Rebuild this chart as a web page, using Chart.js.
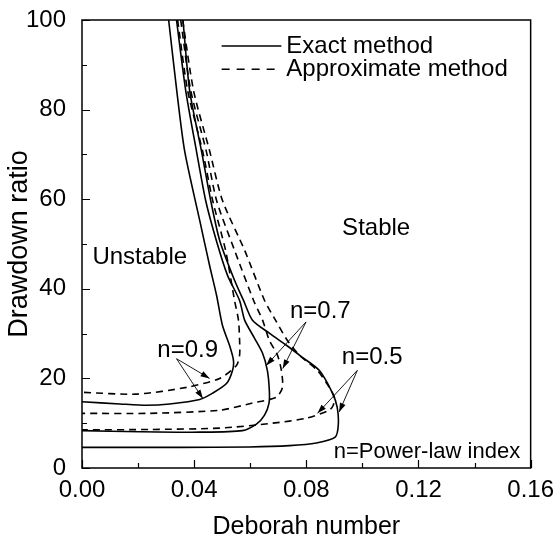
<!DOCTYPE html>
<html>
<head>
<meta charset="utf-8">
<script src="https://cdn.jsdelivr.net/npm/chart.js@4"></script>
<style>
  body { margin: 0; background: #fff; }
  #wrap { width: 556px; height: 537px; }
</style>
</head>
<body>
<div id="wrap"><canvas id="myChart"></canvas></div>
<script>
// Deborah number (x) vs drawdown ratio (y)
const exact09X = [0.0309, 0.0338, 0.0366, 0.0420, 0.0455, 0.0480, 0.0501, 0.0526, 0.0540, 0.0537, 0.0516, 0.0466, 0.0420, 0.0313, 0.0231, 0.0135, 0.0];
const exact09Y = [100, 84.2, 70.8, 55.2, 45.2, 38.5, 31.8, 27.4, 24.1, 21.8, 18.9, 16.7, 15.3, 14.3, 14.0, 14.3, 14.8];

const exact07X = [0.0337, 0.0370, 0.0408, 0.0441, 0.0479, 0.0519, 0.0562, 0.0580, 0.0615, 0.0644, 0.0661, 0.0668, 0.0667, 0.0651, 0.0622, 0.0572, 0.0420, 0.0206, 0.0];
const exact07Y = [100, 84.2, 70.8, 59.7, 50.8, 43.0, 37.4, 33.0, 29.0, 25.6, 21.8, 17.4, 14.5, 11.8, 9.8, 8.35, 8.0, 8.1, 8.35];

const exact05X = [0.0360, 0.0384, 0.0426, 0.0459, 0.0491, 0.0544, 0.0576, 0.0608, 0.0668, 0.0729, 0.0786, 0.0846, 0.0892, 0.0910, 0.0914, 0.0903, 0.0836, 0.0740, 0.0597, 0.0348, 0.0];
const exact05Y = [100, 84.2, 70.8, 59.7, 50.8, 41.9, 37.4, 33.0, 30.1, 27.4, 24.7, 21.8, 16.9, 13.6, 9.6, 6.9, 5.6, 5.0, 4.7, 4.6, 4.6];

const approx09X = [0.0341, 0.0377, 0.0430, 0.0466, 0.0512, 0.0544, 0.0558, 0.0562, 0.0562, 0.0551, 0.0491, 0.0373, 0.0196, 0.0];
const approx09Y = [100, 84.2, 70.8, 59.7, 48.6, 37.4, 33.0, 28.5, 25.2, 22.9, 20.0, 18.0, 16.5, 16.9];

const approx07X = [0.0352, 0.0388, 0.0443, 0.0480, 0.0544, 0.0612, 0.0644, 0.0668, 0.0697, 0.0711, 0.0715, 0.0693, 0.0608, 0.0491, 0.0242, 0.0];
const approx07Y = [100, 84.2, 70.8, 59.7, 48.6, 37.4, 33.0, 28.5, 25.2, 21.8, 18.0, 15.8, 14.5, 12.9, 12.2, 12.2];

const approx05X = [0.0359, 0.0398, 0.0455, 0.0501, 0.0580, 0.0651, 0.0690, 0.0732, 0.0775, 0.0839, 0.0882, 0.0900, 0.0896, 0.0882, 0.0800, 0.0679, 0.0491, 0.0242, 0.0];
const approx05Y = [100, 84.2, 70.8, 59.7, 48.6, 37.4, 33.0, 28.5, 25.2, 21.8, 18.0, 15.8, 14.0, 12.9, 11.1, 10.0, 8.9, 8.6, 8.5];

const xTicks = [0.00, 0.04, 0.08, 0.12, 0.16];
const yTicks = [0, 20, 40, 60, 80, 100];

const legendLabels = ['Exact method', 'Approximate method'];

// text notes: [text, x, y, size] in data units
const notes = [
  ['Unstable', 0.0206, 47.0, 24],
  ['Stable', 0.1049, 53.5, 24],
  ['n=0.9', 0.0377, 26.3, 24],
  ['n=0.7', 0.0850, 35.0, 24],
  ['n=0.5', 0.1035, 24.7, 24],
  ['n=Power-law index', 0.1230, 3.6, 22]
];
// arrows: from [x,y] to [x,y]
const arrows = [
  [0.0337, 24.4, 0.0455, 20.0],
  [0.0337, 24.4, 0.0431, 15.5],
  [0.0799, 32.6, 0.0657, 22.9],
  [0.0799, 32.6, 0.0716, 22.2],
  [0.0982, 21.8, 0.0840, 12.2],
  [0.0982, 21.8, 0.0917, 12.5]
];

const FONT = '"Liberation Sans", Arial, sans-serif';

function pts(xs, ys) {
  return xs.map((x, i) => ({ x: x, y: ys[i] }));
}

function line(xs, ys, dashed) {
  return {
    data: pts(xs, ys),
    borderColor: '#000',
    borderWidth: 1.6,
    borderDash: dashed ? [7, 5] : [],
    pointRadius: 0,
    fill: false,
    tension: 0.25
  };
}

function arrowTo(ctx, x1, y1, x2, y2) {
  ctx.beginPath();
  ctx.moveTo(x1, y1);
  ctx.lineTo(x2, y2);
  ctx.stroke();
  var a = Math.atan2(y2 - y1, x2 - x1);
  var len = 9, w = 3;
  ctx.beginPath();
  ctx.moveTo(x2, y2);
  ctx.lineTo(x2 - len * Math.cos(a) + w * Math.sin(a), y2 - len * Math.sin(a) - w * Math.cos(a));
  ctx.lineTo(x2 - len * Math.cos(a) - w * Math.sin(a), y2 - len * Math.sin(a) + w * Math.cos(a));
  ctx.closePath();
  ctx.fill();
}

const extras = {
  id: 'extras',
  afterDraw(chart) {
    const ctx = chart.ctx;
    const a = chart.chartArea;
    const xs = chart.scales.x, ys = chart.scales.y;
    ctx.save();
    ctx.strokeStyle = '#000';
    ctx.fillStyle = '#000';
    ctx.lineWidth = 1.5;
    ctx.setLineDash([]);
    // frame
    ctx.strokeRect(a.left, a.top, a.right - a.left, a.bottom - a.top);
    // inward ticks
    ctx.lineWidth = 1.2;
    ctx.beginPath();
    for (let v = 0; v <= 0.1601; v += 0.02) {
      const px = Math.round(xs.getPixelForValue(v)) + 0.5;
      const major = Math.abs(v / 0.04 - Math.round(v / 0.04)) < 1e-6;
      ctx.moveTo(px, a.bottom);
      ctx.lineTo(px, a.bottom - (major ? 8 : 5));
    }
    for (let v = 0; v <= 100; v += 10) {
      const py = Math.round(ys.getPixelForValue(v)) + 0.5;
      ctx.moveTo(a.left, py);
      ctx.lineTo(a.left + (v % 20 === 0 ? 8 : 5), py);
    }
    ctx.stroke();

    // legend
    ctx.lineWidth = 1.6;
    const lx1 = xs.getPixelForValue(0.0498), lx2 = xs.getPixelForValue(0.0711);
    const ly = [ys.getPixelForValue(94.2), ys.getPixelForValue(89.0)];
    ctx.font = '24px ' + FONT;
    ctx.textBaseline = 'middle';
    ctx.textAlign = 'left';
    legendLabels.forEach((t, i) => {
      ctx.setLineDash(i === 0 ? [] : [8, 7]);
      ctx.beginPath();
      ctx.moveTo(lx1, ly[i]);
      ctx.lineTo(lx2, ly[i]);
      ctx.stroke();
      ctx.fillText(t, lx2 + 5, ly[i]);
    });
    ctx.setLineDash([]);

    // notes
    ctx.textAlign = 'center';
    notes.forEach(n => {
      ctx.font = n[3] + 'px ' + FONT;
      ctx.fillText(n[0], xs.getPixelForValue(n[1]), ys.getPixelForValue(n[2]));
    });

    // arrows
    ctx.lineWidth = 0.9;
    arrows.forEach(r => {
      arrowTo(ctx, xs.getPixelForValue(r[0]), ys.getPixelForValue(r[1]),
                   xs.getPixelForValue(r[2]), ys.getPixelForValue(r[3]));
    });
    ctx.restore();
  }
};

const ctx = document.getElementById('myChart').getContext('2d');
const myChart = new Chart(ctx, {
  type: 'line',
  data: {
    datasets: [
      line(exact09X, exact09Y, false),
      line(exact07X, exact07Y, false),
      line(exact05X, exact05Y, false),
      line(approx09X, approx09Y, true),
      line(approx07X, approx07Y, true),
      line(approx05X, approx05Y, true)
    ]
  },
  options: {
    responsive: true,
    maintainAspectRatio: false,
    animation: false,
    layout: { padding: { left: 0, top: 19, right: 24, bottom: 0 } },
    plugins: { legend: { display: false }, tooltip: { enabled: false } },
    scales: {
      x: {
        type: 'linear',
        min: 0, max: 0.16,
        afterBuildTicks: s => { s.ticks = xTicks.map(v => ({ value: v })); },
        afterFit: s => { s.height = 69; },
        grid: { display: false },
        border: { display: false },
        ticks: {
          padding: 2,
          color: '#000',
          font: { family: FONT, size: 24, lineHeight: 1 },
          maxRotation: 0,
          callback: v => v.toFixed(2)
        },
        title: {
          display: true,
          text: 'Deborah number',
          color: '#000',
          font: { family: FONT, size: 25, lineHeight: 1 },
          padding: { top: 0, bottom: -3 }
        }
      },
      y: {
        type: 'linear',
        min: 0, max: 100,
        afterBuildTicks: s => { s.ticks = yTicks.map(v => ({ value: v })); },
        afterFit: s => { s.width = 82; },
        grid: { display: false },
        border: { display: false },
        ticks: {
          padding: 8,
          color: '#000',
          font: { family: FONT, size: 24, lineHeight: 1 }
        },
        title: {
          display: true,
          text: 'Drawdown ratio',
          color: '#000',
          font: { family: FONT, size: 27, lineHeight: 1 },
          padding: { top: 6, bottom: 4 }
        }
      }
    }
  },
  plugins: [extras]
});
</script>
</body>
</html>
